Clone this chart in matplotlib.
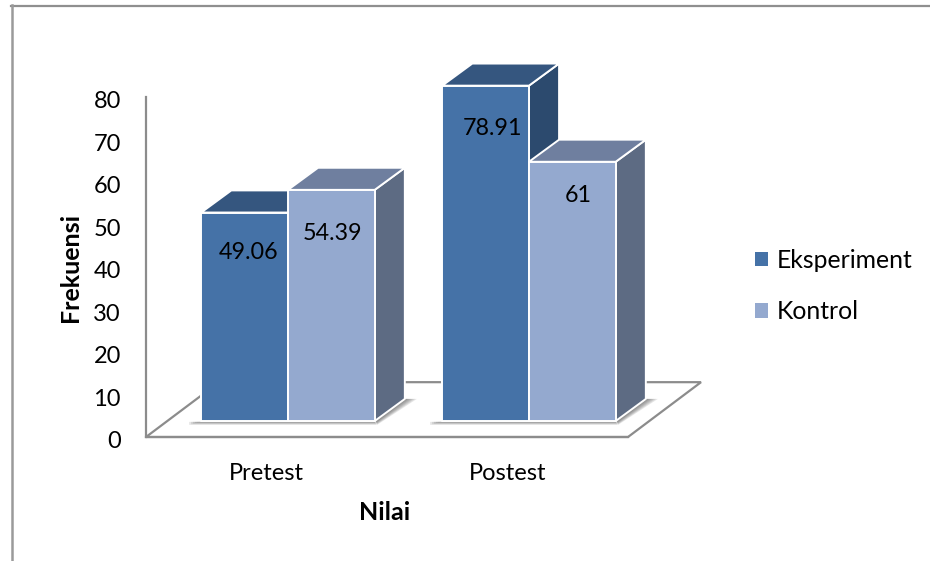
import matplotlib
matplotlib.use('Agg')
import matplotlib.pyplot as plt
import numpy as np
from matplotlib.lines import Line2D
from matplotlib.patches import Polygon, Rectangle
from matplotlib.transforms import ScaledTranslation

plt.rcParams['font.family'] = ['Lato', 'DejaVu Sans']

categories = ['Pretest', 'Postest']
series_names = ['Eksperiment', 'Kontrol']
eksperiment = [49.06, 78.91]
kontrol = [54.39, 61]
y_ticks = [0, 10, 20, 30, 40, 50, 60, 70, 80]

# per-series face colours: front, top, side
dark_faces = ('#4572a7', '#35567f', '#2c4a6e')
light_faces = ('#94a9cf', '#6f7f9f', '#5d6b83')
line_grey = '#8c8c8c'

# box depth and floor sizes in axis units
DEPTH_X = 0.125
DEPTH_Y = 5.2
FLOOR_X = 0.303
FLOOR_Y = 12.9
LIFT = 3.76
BAR_W = 0.36
SHIFT = 0.089

FIG_W, FIG_H = 930, 561
LEFT, RIGHT, TOP, BOTTOM = 146, 628, 97, 437

fig = plt.figure(figsize=(FIG_W / 100, FIG_H / 100), dpi=100)
ax = fig.add_axes([LEFT / FIG_W, 1 - BOTTOM / FIG_H, (RIGHT - LEFT) / FIG_W, (BOTTOM - TOP) / FIG_H])
ax.set_xlim(0, 2)
ax.set_ylim(0, 80)
ax.patch.set_visible(False)


def add_poly(pts, **kw):
    p = Polygon(pts, closed=True, clip_on=False, **kw)
    ax.add_patch(p)
    return p


def draw_box(x, val, faces, z):
    x0, x1 = x - BAR_W / 2, x + BAR_W / 2
    y0, y1 = LIFT, LIFT + val
    edge = dict(edgecolor='white', linewidth=1.4, joinstyle='round')
    add_poly([(x1, y0), (x1 + DEPTH_X, y0 + DEPTH_Y), (x1 + DEPTH_X, y1 + DEPTH_Y), (x1, y1)],
             facecolor=faces[2], zorder=z, **edge)
    add_poly([(x0, y1), (x1, y1), (x1 + DEPTH_X, y1 + DEPTH_Y), (x0 + DEPTH_X, y1 + DEPTH_Y)],
             facecolor=faces[1], zorder=z, **edge)
    add_poly([(x0, y0), (x1, y0), (x1, y1), (x0, y1)], facecolor=faces[0], zorder=z + 0.1, **edge)


def draw_shadow(x0, x1):
    # soft shadow under the front and right edge of a bar pair
    for s in np.linspace(1, 0.2, 6):
        add_poly([(x0 - 0.05 * s, LIFT - 0.2), (x1, LIFT - 0.2), (x1 + 0.008, LIFT - 0.9 * s),
                  (x0 - 0.05 * s, LIFT - 0.9 * s)],
                 facecolor='#505050', edgecolor='none', alpha=0.14, zorder=1.5)
        add_poly([(x1, LIFT), (x1 + DEPTH_X, LIFT + DEPTH_Y), (x1 + DEPTH_X + 0.05 * s, LIFT + DEPTH_Y),
                  (x1 + 0.01, LIFT - 0.9 * s)],
                 facecolor='#505050', edgecolor='none', alpha=0.14, zorder=1.5)


# floor of the 3D plot
add_poly([(0, 0), (2, 0), (2 + FLOOR_X, FLOOR_Y), (FLOOR_X, FLOOR_Y)],
         facecolor='white', edgecolor=line_grey, linewidth=1.6, zorder=1)

centres = np.arange(len(categories)) + 0.5
for c in centres:
    draw_shadow(c + SHIFT - BAR_W, c + SHIFT + BAR_W)

for c, val in zip(centres, eksperiment):
    draw_box(c + SHIFT - BAR_W / 2, val, dark_faces, 2)
for c, val in zip(centres, kontrol):
    draw_box(c + SHIFT + BAR_W / 2, val, light_faces, 3)

# value labels sit inside the front faces
label_nudges = {49.06: (4, -40), 54.39: (1, -44), 78.91: (7, -43), 61: (6, -34)}
for series, off in ((eksperiment, -BAR_W / 2), (kontrol, BAR_W / 2)):
    for c, val in zip(centres, series):
        nx, ny = label_nudges[val]
        ax.annotate(f'{val:g}', (c + SHIFT + off, LIFT + val), xytext=(nx * 0.72, ny * 0.72),
                    textcoords='offset points', ha='center', va='center',
                    fontsize=16.8, color='black', zorder=4, annotation_clip=False)

for side in ('top', 'right'):
    ax.spines[side].set_visible(False)
for side in ('left', 'bottom'):
    ax.spines[side].set_color(line_grey)
    ax.spines[side].set_linewidth(1.6)
    ax.spines[side].set_zorder(1.2)

ax.set_xticks(centres)
ax.set_xticklabels(categories)
ax.set_yticks(y_ticks)
ax.tick_params(axis='both', length=0, labelsize=17, labelcolor='black')
ax.tick_params(axis='x', pad=19)
ax.tick_params(axis='y', pad=18)
# drop the y tick labels a touch below their gridline height
for lab in ax.get_yticklabels():
    lab.set_transform(lab.get_transform() + ScaledTranslation(0, -2 / 72, fig.dpi_scale_trans))

fig.text(70 / FIG_W, 1 - 267 / FIG_H, 'Frekuensi', rotation=90, ha='center', va='center',
         fontsize=18, fontweight='bold')
fig.text(385 / FIG_W, 1 - 513 / FIG_H, 'Nilai', ha='center', va='center',
         fontsize=18, fontweight='bold')

handles = [Rectangle((0, 0), 1, 1, facecolor=dark_faces[0]), Rectangle((0, 0), 1, 1, facecolor=light_faces[0])]
fig.legend(handles, series_names, loc='center left', bbox_to_anchor=(755 / FIG_W, 1 - 286 / FIG_H),
           frameon=False, fontsize=17.8, handlelength=0.53, handleheight=0.53, handletextpad=0.33,
           labelspacing=1.14, borderpad=0, borderaxespad=0)

# thin frame around the chart area, only its top and left edges are in view
fig.add_artist(Line2D([11 / FIG_W, 1], [1 - 5.5 / FIG_H] * 2, color='#8f8f8f', lw=1.6))
fig.add_artist(Line2D([12 / FIG_W] * 2, [1 - 5 / FIG_H, 0], color='#9a9a9a', lw=1.8))

fig.savefig('out.png', dpi=100)
